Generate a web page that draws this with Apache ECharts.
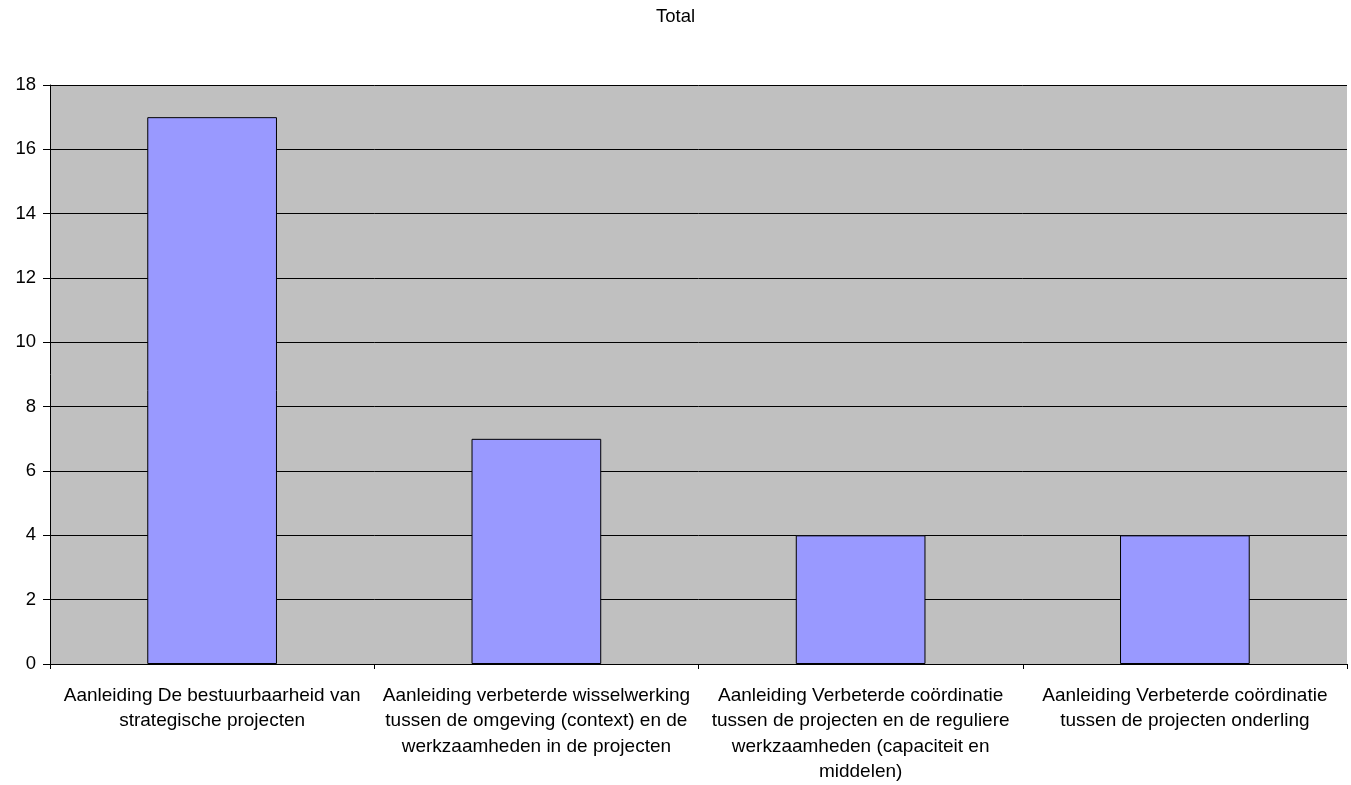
<!DOCTYPE html>
<html>
<head>
<meta charset="utf-8">
<script src="https://cdn.jsdelivr.net/npm/echarts@6/dist/echarts.min.js"></script>
<style>html,body{margin:0;padding:0;background:#fff}#c{width:1351px;height:785px}</style>
</head>
<body>
<div id="c"></div>
<script>
const title = 'Total';
const categories = [
  'Aanleiding De bestuurbaarheid van\nstrategische projecten',
  'Aanleiding verbeterde wisselwerking\ntussen de omgeving (context) en de\nwerkzaamheden in de projecten',
  'Aanleiding Verbeterde coördinatie\ntussen de projecten en de reguliere\nwerkzaamheden (capaciteit en\nmiddelen)',
  'Aanleiding Verbeterde coördinatie\ntussen de projecten onderling'
];
const values = [17, 7, 4, 4];

const chart = echarts.init(document.getElementById('c'));
chart.setOption({
  animation: false,
  backgroundColor: '#ffffff',
  title: {
    text: title, left: 'center', top: 2,
    textStyle: {fontFamily: 'Liberation Sans', fontSize: 18.5, fontWeight: 'normal', color: '#000'}
  },
  grid: {left: 50, right: 4, top: 85, bottom: 118, show: true, backgroundColor: '#c0c0c0', borderWidth: 0},
  xAxis: {
    type: 'category', data: categories,
    axisLine: {lineStyle: {color: '#000', width: 1}},
    axisTick: {show: true, length: 5, lineStyle: {color: '#000'}},
    axisLabel: {fontFamily: 'Liberation Sans', fontSize: 19, color: '#000', lineHeight: 25.5, margin: 19, interval: 0}
  },
  yAxis: {
    type: 'value', min: 0, max: 18, interval: 2,
    axisLine: {show: true, lineStyle: {color: '#000', width: 1}},
    axisTick: {show: true, length: 7, lineStyle: {color: '#000'}},
    axisLabel: {fontFamily: 'Liberation Sans', fontSize: 18.5, color: '#000', margin: 14},
    splitLine: {show: true, lineStyle: {color: '#000', width: 1}}
  },
  series: [{
    type: 'bar', data: values, barWidth: '40%',
    itemStyle: {color: '#9999ff', borderColor: '#000', borderWidth: 1}
  }]
});
</script>
</body>
</html>
